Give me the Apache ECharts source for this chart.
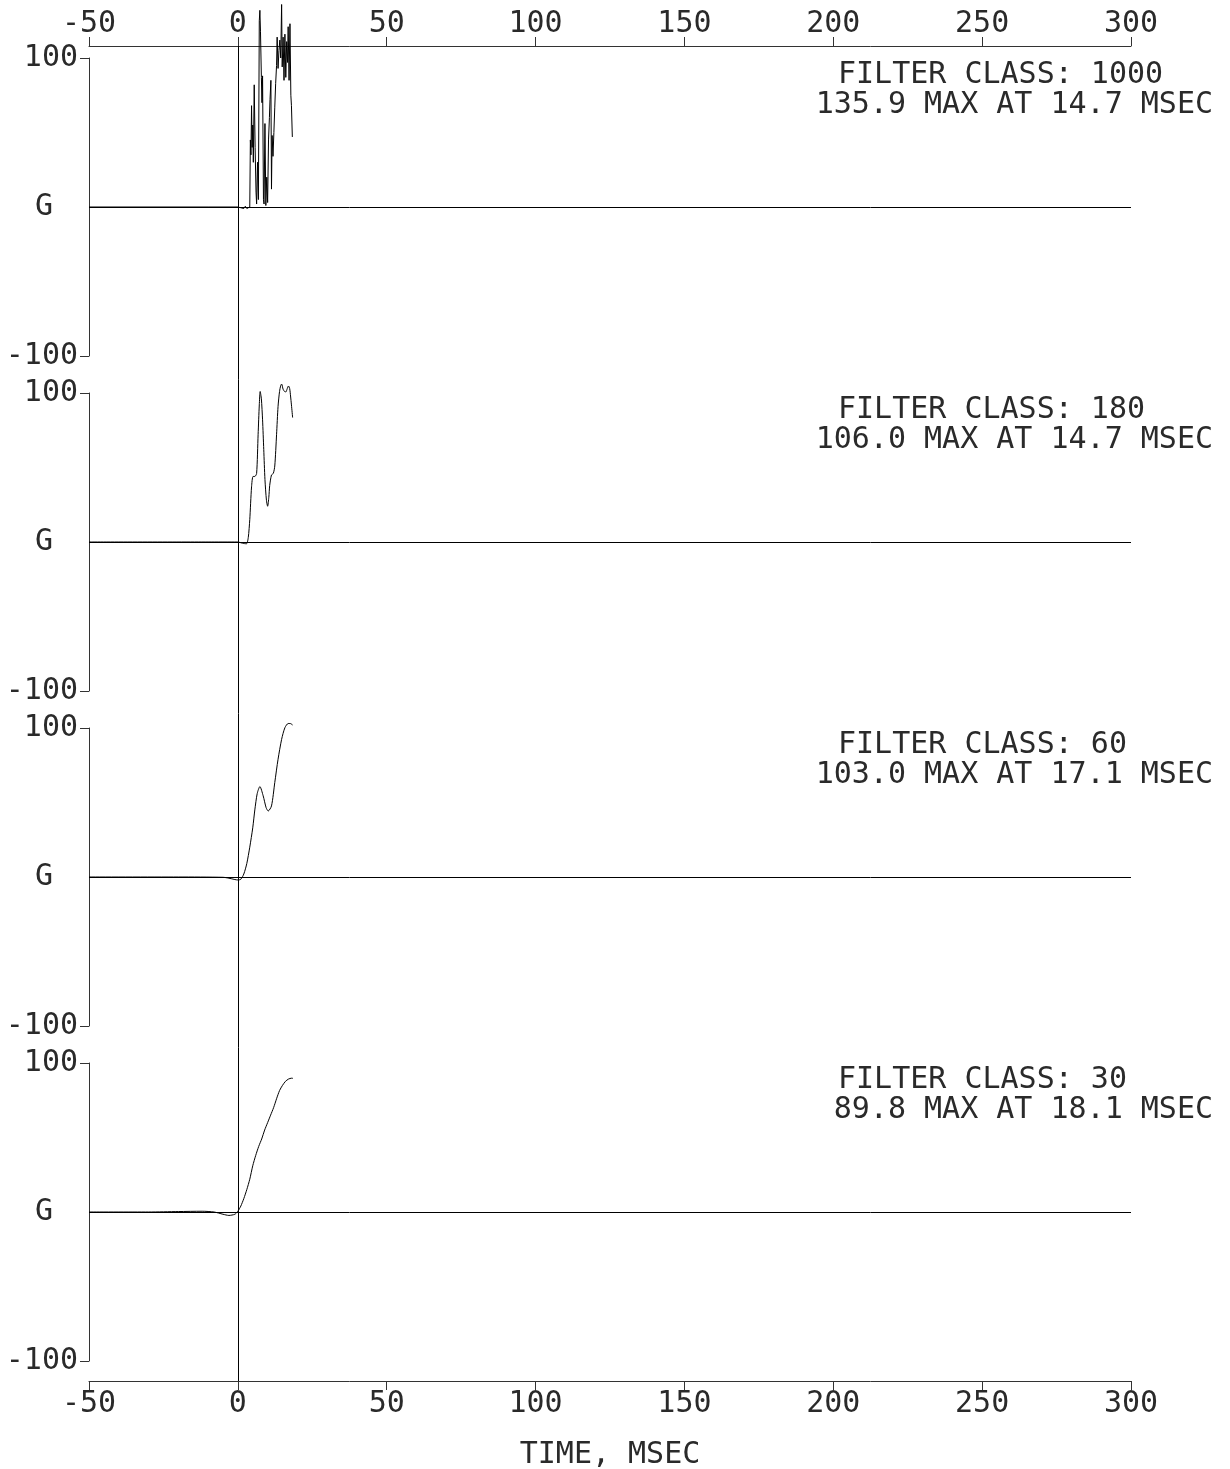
<!DOCTYPE html>
<html><head><meta charset="utf-8">
<script src="https://cdn.jsdelivr.net/npm/echarts@6/dist/echarts.min.js"></script>
<style>html,body{margin:0;padding:0;background:#fff}#chart{width:1230px;height:1469px}</style>
</head><body><div id="chart"></div>
<script>
// ---- data ----
const xMin = -50, xMax = 300, xStep = 50;
const yMin = -100, yMax = 100;
const filterClasses = ['1000', '180', '60', '30'];
const maxValues = ['135.9', '106.0', '103.0', '89.8'];
const maxTimes = ['14.7', '14.7', '17.1', '18.1'];
const xAxisTitle = 'TIME, MSEC';
const zeroLabel = 'G';

const t1000 = [-50, -10, 0, 1, 2, 2.5, 3, 3.5, 4.0, 4.2, 4.4, 4.6, 4.8, 5.0, 5.2, 5.5, 5.8, 6.1, 6.3, 6.6, 6.9, 7.2, 7.4, 7.6, 7.9, 8.1, 8.3, 8.6, 8.8, 9.1, 9.4, 9.7, 10.0, 10.3, 10.6, 10.8, 11.1, 11.3, 11.5, 11.8, 12.1, 12.4, 12.7, 13.0, 13.2, 13.5, 13.8, 14.1, 14.4, 14.7, 14.9, 15.2, 15.5, 15.8, 16.1, 16.4, 16.7, 16.9, 17.2, 17.5, 17.8, 18.0, 18.3];
const g1000 = [0, 0, 0, -0.5, -1, 0.5, -1, -1.5, 0, 45, 35, 68, 40, 55, 30, 82, 40, 10, 2, 30, 5, 125, 132, 118, 87, 70, 88, 5, 2, 56, 1, 20, 3, 45, 60, 72, 85, 12, 48, 34, 50, 67, 83, 95, 114, 93, 105, 112, 100, 135.9, 94, 114, 85, 116, 87, 111, 97, 121, 85, 123, 75, 68, 47];

const t180 = [-50, -10, 0, 1, 2, 2.9, 3.5, 4.0, 4.6, 5.1, 5.7, 6.3, 6.8, 7.2, 7.5, 7.9, 8.3, 8.7, 9.1, 9.6, 10.0, 10.4, 10.7, 11.3, 11.9, 12.4, 13.0, 13.5, 14.0, 14.4, 14.7, 15.2, 15.7, 16.1, 16.6, 17.0, 17.4, 17.7, 18.0, 18.4];
const g180 = [0, 0, 0, -0.5, -1, -1.2, 3, 15, 37, 44, 44, 46, 72, 92, 101, 96, 82, 62, 42, 28, 24, 30, 38, 45, 46, 51, 72, 91, 101, 105, 106, 102.5, 101, 100.7, 103, 104.7, 103, 98, 92, 83.5];

const t60 = [-50, -20, -5, -3, -1, 0, 1, 2, 3, 4, 5, 5.7, 6.5, 7.4, 8.5, 9.5, 10.2, 11.3, 12.4, 13.5, 14.7, 15.8, 16.9, 17.6, 18.4];
const g60 = [0, 0, -0.2, -0.8, -1.7, -2, -1.5, 2, 9, 20, 33, 45, 56, 60.7, 54.5, 46.5, 44.3, 47.7, 63.4, 79, 92.4, 100.2, 103, 103, 102];

const t30 = [-50, -30, -20, -12, -8, -5, -3, -1, 0, 1, 2, 3, 4, 5, 6, 7, 8, 9, 10, 11, 12, 13, 14, 15, 16, 17, 18, 18.5];
const g30 = [0, 0, 0.3, 0.5, 0, -1.5, -2.3, -1.5, 0.5, 4, 9, 15, 22, 31, 38, 44, 49, 55, 60, 65, 70, 76, 81.5, 85, 87.7, 89.2, 89.8, 89.7];

const seriesTimes = [t1000, t180, t60, t30];
const seriesValues = [g1000, g180, g60, g30];

// ---- layout / style ----
const FONT = "'DejaVu Sans Mono', monospace";
const FS = 30;
const TXT = '#2a2a2a';
const AX = '#333';
const L = 89, R = 99;
const panelTops = [58, 393, 728, 1063];
const panelH = 298;

const grids = [{ left: L, right: R, top: 46, bottom: 1469 - 1381, outerBoundsMode: 'none', containLabel: false }];
panelTops.forEach(t => grids.push({ left: L, right: R, top: t, height: panelH, outerBoundsMode: 'none', containLabel: false }));

const axisLabelStyle = { fontFamily: FONT, fontSize: FS, color: TXT };

const xAxes = [
  { gridIndex: 0, type: 'value', position: 'top', min: xMin, max: xMax, interval: xStep,
    axisLine: { onZero: false, lineStyle: { color: AX, width: 1 } },
    axisTick: { length: 9, lineStyle: { color: AX } },
    axisLabel: Object.assign({ margin: 7 }, axisLabelStyle),
    splitLine: { show: false } },
  { gridIndex: 0, type: 'value', position: 'bottom', min: xMin, max: xMax, interval: xStep,
    axisLine: { onZero: false, lineStyle: { color: AX, width: 1 } },
    axisTick: { length: 9, lineStyle: { color: AX } },
    axisLabel: Object.assign({ margin: 8 }, axisLabelStyle),
    splitLine: { show: false },
    name: xAxisTitle, nameLocation: 'middle', nameGap: 59,
    nameTextStyle: { fontFamily: FONT, fontSize: FS, color: TXT } }
];
const yAxes = [{ gridIndex: 0, type: 'value', min: 0, max: 1, show: false }];
panelTops.forEach((t, i) => {
  xAxes.push({ gridIndex: i + 1, type: 'value', min: xMin, max: xMax, show: false });
  yAxes.push({ gridIndex: i + 1, type: 'value', position: 'left', min: yMin, max: yMax, interval: yMax - yMin,
    axisLine: { show: true, onZero: false, lineStyle: { color: AX, width: 1 } },
    axisTick: { show: true, length: 9, lineStyle: { color: AX } },
    axisLabel: Object.assign({ margin: 11 }, axisLabelStyle),
    splitLine: { show: false } });
  yAxes.push({ gridIndex: i + 1, type: 'value', position: 'left', min: yMin, max: yMax, interval: (yMax - yMin) / 2,
    axisLine: { show: false, onZero: false }, axisTick: { show: false },
    axisLabel: Object.assign({ margin: 36, formatter: v => (v === 0 ? zeroLabel : '') }, axisLabelStyle),
    splitLine: { show: false } });
});

const series = [{
  type: 'line', xAxisIndex: 0, yAxisIndex: 0, data: [], silent: true,
  markLine: { silent: true, symbol: 'none', animation: false, label: { show: false },
    lineStyle: { color: '#000', width: 1, type: 'solid' }, data: [{ xAxis: 0 }] }
}];
seriesTimes.forEach((ts, i) => {
  series.push({
    type: 'line', xAxisIndex: i + 2, yAxisIndex: 1 + i * 2, clip: false,
    showSymbol: false, symbol: 'none', smooth: i === 0 ? false : 0.25,
    lineStyle: { color: '#000', width: 1 },
    data: ts.map((x, k) => [x, seriesValues[i][k]]),
    markLine: { silent: true, symbol: 'none', animation: false, label: { show: false },
      lineStyle: { color: '#000', width: 1, type: 'solid' }, data: [{ yAxis: 0 }] }
  });
});

const graphic = [];
panelTops.forEach((t, i) => {
  graphic.push({ type: 'text', left: 838, top: t + 19 - FS / 2 - 2,
    style: { text: 'FILTER CLASS: ' + filterClasses[i], font: FS + 'px ' + FONT, fill: TXT } });
  graphic.push({ type: 'text', right: 1230 - 1213, top: t + 49 - FS / 2 - 2,
    style: { text: maxValues[i] + ' MAX AT ' + maxTimes[i] + ' MSEC', font: FS + 'px ' + FONT, fill: TXT } });
});

const chart = echarts.init(document.getElementById('chart'), null, { renderer: 'canvas' });
chart.setOption({
  animation: false,
  backgroundColor: '#fff',
  grid: grids, xAxis: xAxes, yAxis: yAxes, series: series, graphic: graphic
});
</script></body></html>
